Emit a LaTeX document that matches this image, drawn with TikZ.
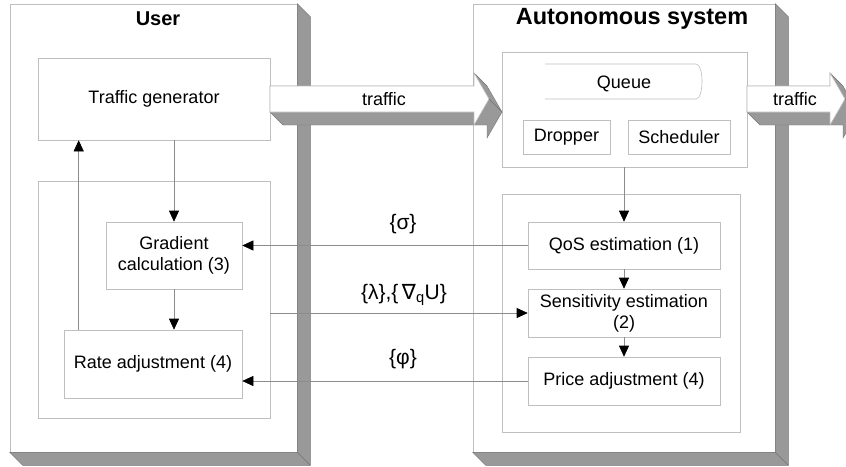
\documentclass[tikz,border=0pt]{standalone}
\usepackage{fontspec}
\setmainfont{Liberation Sans}
\newfontfamily\symfont{DejaVu Sans}
\usetikzlibrary{arrows.meta}

\begin{document}
\begin{tikzpicture}[x=1pt, y=-1pt]
	\tikzset{face/.style={draw=black!25, fill=white, line width=0.6pt, inner sep=0pt},
		bx/.style={face, inner sep=2pt, align=center, font=\fontsize{18}{21}\selectfont},
		side/.style={fill=black!40, draw=black!55, line width=0.4pt},
		arr/.style={draw=black!45, line width=0.6pt, -{Triangle[length=11pt, width=10pt, black]}},
		lbl/.style={font=\fontsize{18}{21}\selectfont},
		sym/.style={font=\fontsize{21}{24}\selectfont},
		ttl/.style={font=\fontsize{20}{24}\selectfont\bfseries}};

	\clip (0,0) rectangle (846,466);

	\node[face, minimum width=287pt, minimum height=448pt] (user) at (153.5,228) {};
	\filldraw[side] (user.north east) -- ++(13,13) |- ([shift={(13,13)}]user.south west) -- (user.south west) -- (user.south east) -- cycle;
	\draw[side] (user.south east) -- ++(13,13);
	\node[ttl] (usert) at (158,19) {User};

	\node[face, minimum width=302pt, minimum height=448pt] (auto) at (624,228) {};
	\filldraw[side] (auto.north east) -- ++(13,13) |- ([shift={(13,13)}]auto.south west) -- (auto.south west) -- (auto.south east) -- cycle;
	\draw[side] (auto.south east) -- ++(13,13);
	\node[ttl, font=\fontsize{23.5}{26}\selectfont\bfseries] (autot) at (632,19) {Autonomous system};

	\node[bx, minimum width=232pt, minimum height=82pt] (tg) at (154,99) {Traffic generator};
	\node[face, minimum width=232pt, minimum height=237pt] (uframe) at (154,299.5) {};
	\node[bx, minimum width=136pt, minimum height=67pt] (grad) at (174,255.5) {Gradient\\calculation (3)};
	\node[bx, minimum width=178pt, minimum height=68pt] (rate) at (153,364) {Rate adjustment (4)};

	\node[face, minimum width=245pt, minimum height=115pt] (qbox) at (624.5,109.5) {};
	\draw[draw=black!25, line width=0.6pt] (545,64) -- (696,64) .. controls (704,64) and (704,99) .. (696,99) -- (545,99);
	\node[lbl] (queue) at (624,84) {Queue};
	\node[bx, minimum width=87pt, minimum height=34pt] (drop) at (566.5,137.5) {Dropper};
	\node[bx, minimum width=102pt, minimum height=34pt] (sched) at (679,137.5) {Scheduler};

	\node[face, minimum width=238pt, minimum height=238pt] (aframe) at (621,313) {};
	\node[bx, minimum width=192pt, minimum height=47pt] (qos) at (624,245.5) {QoS estimation (1)};
	\node[bx, minimum width=192pt, minimum height=48pt] (sens) at (624,313) {Sensitivity estimation\\(2)};
	\node[bx, minimum width=192pt, minimum height=48pt] (price) at (624,381) {Price adjustment (4)};

	\filldraw[side] (270,86) -- (474,86) -- (474,73) -- (487,86) -- (502,112) -- (487,138) -- (487,125) -- (283,125) -- (270,112) -- cycle;
	\filldraw[face] (270,86) -- (474,86) -- (474,73) -- (489,99) -- (474,125) -- (474,112) -- (270,112) -- cycle;
	\draw[side] (489,99) -- (502,112);
	\node[lbl] (tr1) at (384,99) {traffic};

	\filldraw[side] (747,86) -- (830,86) -- (830,73) -- (843,86) -- (858,112) -- (843,138) -- (843,125) -- (760,125) -- (747,112) -- cycle;
	\filldraw[face] (747,86) -- (830,86) -- (830,73) -- (845,99) -- (830,125) -- (830,112) -- (747,112) -- cycle;
	\draw[side] (845,99) -- (858,112);
	\node[lbl] (tr2) at (795,99) {traffic};

	\draw[arr] (grad.north |- tg.south) -- (grad.north);
	\draw[arr] (grad.south) -- (grad.south |- rate.north);
	\draw[arr] ([xshift=15pt]rate.north west) -- ([xshift=15pt]rate.north west |- tg.south);

	\draw[arr] (qbox.south -| qos.north) -- (qos.north);
	\draw[arr] (qos.south) -- (sens.north);
	\draw[arr] (sens.south) -- (price.north);

	\draw[arr] (qos.west) -- (qos.west -| grad.east);
	\draw[arr] (uframe.east |- sens.west) -- (sens.west);
	\draw[arr] (price.west) -- (price.west -| rate.east);

	\node[sym] (sig) at (403,224) {\{σ\}};
	\node[sym] (lam) at (404,295) {\{λ\},\{\,{\symfont ∇}\textsubscript{q}U\}};
	\node[sym] (phi) at (403,359) {\{φ\}};
\end{tikzpicture}
\end{document}
